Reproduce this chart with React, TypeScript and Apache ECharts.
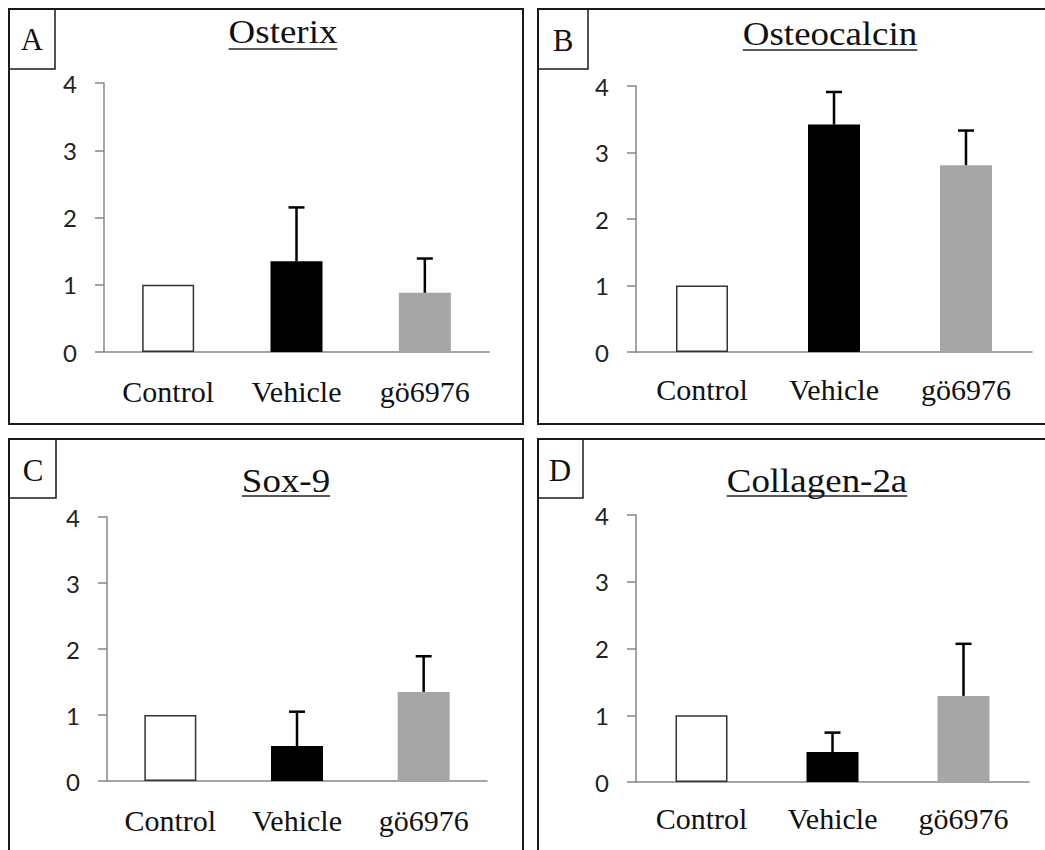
import React, { useEffect, useRef } from "react";
import * as echarts from "echarts";

// ---------- data ----------
const categories = ["Control", "Vehicle", "gö6976"];
const panelLetters = ["A", "B", "C", "D"];
const panelTitles = ["Osterix", "Osteocalcin", "Sox-9", "Collagen-2a"];
const yTickMin = 0;
const yTickMax = 4;
const yTickStep = 1;

const osterixMean = [1.0, 1.35, 0.88];
const osterixErrTop = [null, 2.15, 1.39];
const osteocalcinMean = [1.0, 3.42, 2.81];
const osteocalcinErrTop = [null, 3.91, 3.33];
const sox9Mean = [1.0, 0.53, 1.35];
const sox9ErrTop = [null, 1.05, 1.89];
const collagenMean = [1.0, 0.45, 1.29];
const collagenErrTop = [null, 0.74, 2.07];

const panelMeans = [osterixMean, osteocalcinMean, sox9Mean, collagenMean];
const panelErrTops = [osterixErrTop, osteocalcinErrTop, sox9ErrTop, collagenErrTop];

// ---------- styles / layout ----------
const barColors = ["#ffffff", "#000000", "#a6a6a6"];
const SERIF = "'Liberation Serif', 'Times New Roman', serif";
const SANS = "Lato, 'Open Sans', sans-serif";
const W = 1045;
const H = 850;

const layout = [
  { frame: [9, 9, 514, 415], box: [9, 9, 46, 60], letter: [32, 39], title: [283, 32, 49], grid: [104, 83, 385, 269], labelMargin: 24 },
  { frame: [538, 9, 540, 415], box: [538, 9, 50, 60], letter: [563, 40], title: [830, 34, 50], grid: [636, 86, 396, 266], labelMargin: 22 },
  { frame: [9, 439, 514, 440], box: [9, 439, 47, 59], letter: [33, 470], title: [286, 481, 496], grid: [107, 517, 380, 264], labelMargin: 24 },
  { frame: [538, 439, 540, 440], box: [538, 439, 45, 59], letter: [560, 470], title: [817, 481, 496], grid: [636, 515, 393, 267], labelMargin: 21 },
];

const TITLE_SIZE = 33;
const TITLE_SCALE_X = 1.12;

function measure(text: string, font: string): number {
  const c = document.createElement("canvas").getContext("2d");
  if (!c) return text.length * 15;
  c.font = font;
  return c.measureText(text).width;
}

function buildOption() {
  const grids: any[] = [];
  const xAxes: any[] = [];
  const yAxes: any[] = [];
  const series: any[] = [];
  const graphics: any[] = [];

  layout.forEach((p, i) => {
    const [gl, gt, gw, gh] = p.grid;
    grids.push({ left: gl, top: gt, width: gw, height: gh, containLabel: false });
    xAxes.push({
      type: "category",
      gridIndex: i,
      data: categories,
      boundaryGap: true,
      axisLine: { show: true, lineStyle: { color: "#868686", width: 1.5 } },
      axisTick: { show: false },
      axisLabel: {
        margin: p.labelMargin,
        fontFamily: SERIF,
        fontSize: 30,
        color: "#111",
        interval: 0,
      },
    });
    yAxes.push({
      type: "value",
      gridIndex: i,
      min: yTickMin,
      max: yTickMax,
      interval: yTickStep,
      axisLine: { show: true, lineStyle: { color: "#868686", width: 1.5 } },
      axisTick: { show: true, length: 9, lineStyle: { color: "#868686", width: 1.5 } },
      splitLine: { show: false },
      axisLabel: { margin: 27, fontFamily: SANS, fontSize: 24, color: "#222" },
    });

    const mean = panelMeans[i];
    const errTop = panelErrTops[i];
    series.push({
      type: "bar",
      xAxisIndex: i,
      yAxisIndex: i,
      barWidth: 52,
      data: mean.map((v, k) => ({
        value: v,
        itemStyle: {
          color: barColors[k],
          borderColor: k === 0 ? "#333" : barColors[k],
          borderWidth: k === 0 ? 1.5 : 0,
        },
      })),
      z: 2,
    });
    series.push({
      type: "custom",
      xAxisIndex: i,
      yAxisIndex: i,
      z: 3,
      data: mean
        .map((v, k) => [k, v, errTop[k]])
        .filter((d) => d[2] !== null),
      renderItem: (params: any, api: any) => {
        const base = api.coord([api.value(0), api.value(1)]);
        const tip = api.coord([api.value(0), api.value(2)]);
        const st = { stroke: "#000", lineWidth: 2.5 };
        return {
          type: "group",
          children: [
            { type: "line", shape: { x1: base[0], y1: base[1], x2: tip[0], y2: tip[1] }, style: st },
            { type: "line", shape: { x1: tip[0] - 8, y1: tip[1], x2: tip[0] + 8, y2: tip[1] }, style: st },
          ],
        };
      },
    });

    // frames
    const [fx, fy, fw, fh] = p.frame;
    graphics.push({
      type: "rect",
      shape: { x: fx, y: fy, width: fw, height: fh },
      style: { fill: "none", stroke: "#1a1a1a", lineWidth: 2 },
      silent: true,
    });
    const [bx, by, bw, bh] = p.box;
    graphics.push({
      type: "rect",
      shape: { x: bx, y: by, width: bw, height: bh },
      style: { fill: "none", stroke: "#1a1a1a", lineWidth: 1.5 },
      silent: true,
    });
    graphics.push({
      type: "text",
      x: p.letter[0],
      y: p.letter[1],
      style: {
        text: panelLetters[i],
        font: `31px ${SERIF}`,
        fill: "#111",
        align: "center",
        verticalAlign: "middle",
      },
    });
    // title + underline
    const [tx, ty, uy] = p.title;
    graphics.push({
      type: "text",
      x: tx,
      y: ty,
      scaleX: TITLE_SCALE_X,
      style: {
        text: panelTitles[i],
        font: `${TITLE_SIZE}px ${SERIF}`,
        fill: "#111",
        align: "center",
        verticalAlign: "middle",
      },
    });
    const tw = measure(panelTitles[i], `${TITLE_SIZE}px ${SERIF}`) * TITLE_SCALE_X;
    graphics.push({
      type: "line",
      shape: { x1: tx - tw / 2, y1: uy, x2: tx + tw / 2, y2: uy },
      style: { stroke: "#222", lineWidth: 1.5 },
      silent: true,
    });
  });

  return {
    animation: false,
    backgroundColor: "#ffffff",
    grid: grids,
    xAxis: xAxes,
    yAxis: yAxes,
    series,
    graphic: graphics,
  };
}

export default function App() {
  const ref = useRef<HTMLDivElement>(null);
  useEffect(() => {
    if (!ref.current) return;
    const chart = echarts.init(ref.current, undefined, { renderer: "svg" });
    chart.setOption(buildOption() as any);
    return () => chart.dispose();
  }, []);
  return (
    <div
      ref={ref}
      style={{ position: "absolute", left: 0, top: 0, width: W, height: H, background: "#fff" }}
    />
  );
}
